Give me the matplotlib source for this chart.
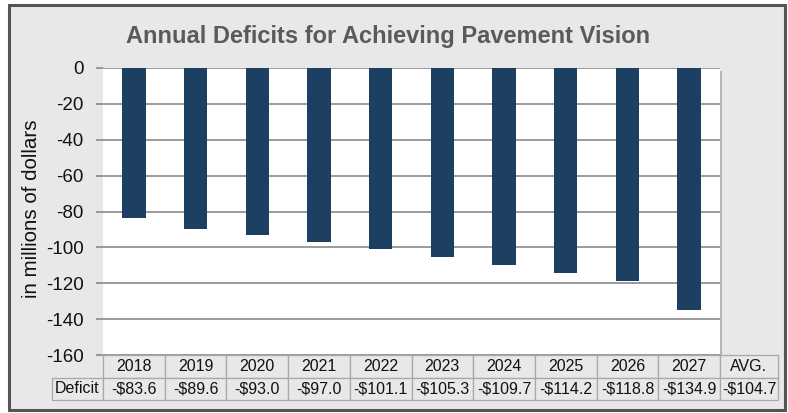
import matplotlib.pyplot as plt
from matplotlib.patches import Rectangle

plt.rcParams['font.family'] = ['Liberation Sans', 'DejaVu Sans']

# Data
years = ['2018', '2019', '2020', '2021', '2022', '2023', '2024', '2025', '2026', '2027']
deficits = [-83.6, -89.6, -93.0, -97.0, -101.1, -105.3, -109.7, -114.2, -118.8, -134.9]
avg_deficit = -104.7
yticks = [0, -20, -40, -60, -80, -100, -120, -140, -160]

bg = '#e8e8e8'
bar_color = '#1d3f61'
grid_color = '#8a8a8a'

fig = plt.figure(figsize=(7.88, 4.13), dpi=100)
fig.patch.set_facecolor('white')

# outer chart frame
fig.patches.append(Rectangle((9 / 788, 3 / 413), 776 / 788, 405 / 413, transform=fig.transFigure,
                             facecolor=bg, edgecolor='#555555', linewidth=2.2, zorder=-10))

ax = fig.add_axes([103 / 788, 58 / 413, 617 / 788, 287 / 413])
# soft shadow behind plot area
fig.patches.append(Rectangle((105 / 788, 55 / 413), 617 / 788, 287 / 413, transform=fig.transFigure,
                             facecolor='#b5b5b5', edgecolor='none', zorder=-5))
ax.set_facecolor('white')

x = range(len(years))
ax.bar(x, deficits, width=0.38, color=bar_color, zorder=3)

ax.set_xlim(-0.5, len(years) - 0.5)
ax.set_ylim(-160, 0)
ax.set_yticks(yticks)
ax.set_yticklabels([str(t) for t in yticks], fontsize=13.5, color='#111111')
ax.set_xticks([])
ax.yaxis.grid(True, color=grid_color, linewidth=1.2, zorder=0)
ax.tick_params(axis='y', length=5, width=1.2, color=grid_color, pad=9)
for s in ax.spines.values():
    s.set_visible(False)

ax.set_ylabel('in millions of dollars', fontsize=14.8, color='#111111')
ax.yaxis.set_label_coords(-62 / 617, 0.51)

fig.text(388 / 788, 1 - 37 / 413, 'Annual Deficits for Achieving Pavement Vision',
         ha='center', va='center', fontsize=17, fontweight='bold', color='#5a5a5a')

# data table under the axis, first column holds the row label
header = [''] + years + ['AVG.']
row = ['Deficit'] + ['-$%.1f' % abs(v) for v in deficits] + ['-$%.1f' % abs(avg_deficit)]
label_w = 51 / 617
avg_w = 58 / 617
tbl = ax.table(cellText=[header, row],
               colWidths=[label_w] + [0.1] * len(years) + [avg_w],
               bbox=[-label_w, -45 / 287, 1 + avg_w + label_w, 45 / 287],
               cellLoc='center')
tbl.auto_set_font_size(False)
tbl.set_fontsize(11.5)
for (r, c), cell in tbl.get_celld().items():
    cell.set_facecolor(bg)
    cell.set_edgecolor('#a8a8a8')
    cell.set_linewidth(0.9)
    cell.get_text().set_color('#111111')
    if r == 0 and c == 0:
        cell.visible_edges = ''
        cell.set_facecolor('none')

fig.savefig('out.png', dpi=100, facecolor=fig.get_facecolor())
